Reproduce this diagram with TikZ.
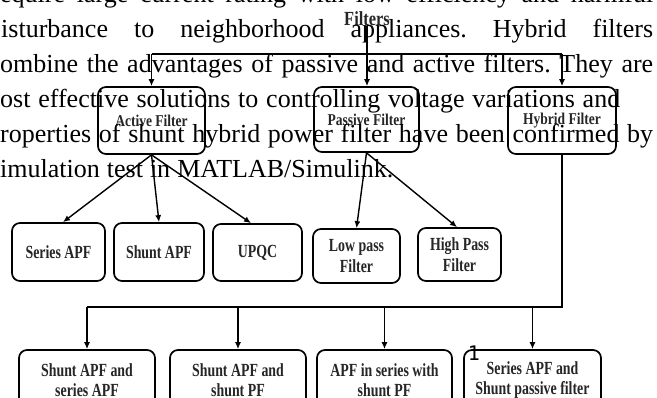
\documentclass[tikz,border=0pt]{standalone}
\usepackage{fontspec}
\setmainfont{Liberation Serif}
\newfontfamily\dfontA{Liberation Serif}[FakeStretch=0.82]
\newfontfamily\dfontB{Liberation Serif}[FakeStretch=0.75]
\newfontfamily\pgfont{DejaVu Sans Mono}
\usetikzlibrary{arrows.meta}
\frenchspacing
\tikzset{
  box/.style={draw=black, line width=1.7pt, rounded corners=8pt, inner sep=0pt, align=center, text=black!85},
  toplabel/.style={font={\dfontA\bfseries\fontsize{16.5}{18}\selectfont}},
  midlabel/.style={font={\dfontB\bfseries\fontsize{18.5}{21}\selectfont}},
  botlabel/.style={font={\dfontB\bfseries\fontsize{18.5}{20}\selectfont}},
  conn/.style={line width=1.4pt, draw=black},
  arr/.style={conn, -{Latex[length=7pt,width=6pt]}},
  para/.style={anchor=base west, inner sep=0pt, font={\fontsize{26}{26}\selectfont}, text=black},
}
\begin{document}
\begin{tikzpicture}[x=1pt,y=-1pt]
\clip (0,0) rectangle (657,398);
\fill[white] (0,0) rectangle (657,398);

% top
\node[inner sep=0pt, text=black!85, font={\dfontA\bfseries\fontsize{20}{20}\selectfont}] (filters) at (367,19) {Filters};
\node[box, toplabel, minimum width=107pt, minimum height=67pt] (active) at (151.5,120.5) {Active Filter};
\node[box, toplabel, minimum width=105pt, minimum height=65pt] (passive) at (366.5,119.5) {Passive Filter};
\node[box, toplabel, minimum width=108pt, minimum height=67pt] (hybrid) at (562,120.5) {Hybrid Filter};

% middle
\node[box, midlabel, minimum width=93pt, minimum height=58pt] (seriesapf) at (58.5,252) {Series APF};
\node[box, midlabel, minimum width=90pt, minimum height=58pt] (shuntapf) at (159,252) {Shunt APF};
\node[box, midlabel, minimum width=89pt, minimum height=57pt] (upqc) at (257.5,252.5) {UPQC};
\node[box, midlabel, minimum width=87pt, minimum height=54pt] (lowpass) at (356.5,256) {Low pass\\Filter};
\node[box, midlabel, minimum width=83pt, minimum height=53pt] (highpass) at (459.5,254.5) {High Pass\\Filter};

% bottom
\node[box, botlabel, minimum width=136pt, minimum height=61pt] (b1) at (87,380.5) {Shunt APF and\\series APF};
\node[box, botlabel, minimum width=136pt, minimum height=61pt] (b2) at (238,380.5) {Shunt APF and\\shunt PF};
\node[box, botlabel, minimum width=135pt, minimum height=61pt] (b3) at (384.5,380.5) {APF in series with\\shunt PF};
\node[box, botlabel, minimum width=137pt, minimum height=61pt] (b4) at (532.5,380.5) {Series APF and\\Shunt passive filter};

% connectors
\coordinate (barL) at (active.north |- 0,54);
\coordinate (barR) at (hybrid.north |- 0,54);
\draw[conn] (barL) -- (barR);
\draw[arr] (filters.south) -- (filters.south |- passive.north);
\draw[arr] (barL) -- (active.north);
\draw[arr] (barR) -- (hybrid.north);

\draw[arr] (active.south) -- ([xshift=4.5pt]seriesapf.north);
\draw[arr] (active.south) -- (shuntapf.north);
\draw[arr] (active.south) -- ([xshift=-6.5pt]upqc.north);
\draw[arr] (passive.south) -- (lowpass.north);
\draw[arr] (passive.south) -- ([xshift=-2.5pt]highpass.north);

\coordinate (hb) at (hybrid.south |- 0,307);
\coordinate (hl) at (b1.north |- 0,307);
\draw[conn] (hybrid.south) -- (hb) -- (hl);
\draw[arr] (hl) -- (b1.north);
\draw[arr] (b2.north |- hl) -- (b2.north);
\draw[arr] (b3.north |- hl) -- (b3.north);
\draw[arr] (b4.north |- hl) -- (b4.north);

\node[inner sep=0pt, font={\pgfont\fontsize{20}{20}\selectfont}] (pg) at (474,353) {1};

% overlaid paragraph
\node[para] (l1) at (0,3) {\makebox[653pt][s]{equire large current rating with low efficiency and harmful}};
\node[para] (l2) at (1,38) {\makebox[652pt][s]{isturbance to neighborhood appliances. Hybrid filters}};
\node[para] (l3) at (0,73) {\makebox[653pt][s]{ombine the advantages of passive and active filters. They are}};
\node[para] (l4) at (0,108) {\makebox[620pt][s]{ost effective solutions to controlling voltage variations and}};
\node[para] (l5) at (0,143) {\makebox[653pt][s]{roperties of shunt hybrid power filter have been confirmed by}};
\node[para] (l6) at (0,178) {\makebox[393pt][s]{imulation test in MATLAB/Simulink.}};
\end{tikzpicture}
\end{document}
